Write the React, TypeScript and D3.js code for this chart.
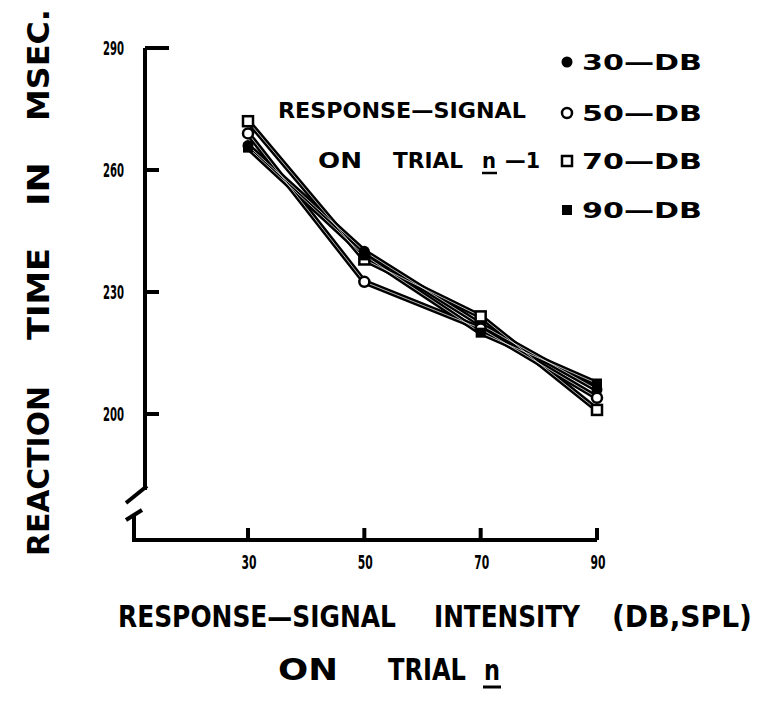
import React from 'react';
import * as d3 from 'd3';

// signal intensity on trial n (DB, SPL)
const intensities = [30, 50, 70, 90];
// one line per intensity on trial n-1
const seriesNames = ['30-DB', '50-DB', '70-DB', '90-DB'];
const seriesLabels = ['30—DB', '50—DB', '70—DB', '90—DB'];
const rt30 = [266, 240, 222, 206];
const rt50 = [269, 232.5, 221, 204];
const rt70 = [272, 238, 224, 201];
const rt90 = [265.5, 239, 220, 207.5];
const yTicks = [200, 230, 260, 290];

const series = [rt30, rt50, rt70, rt90];
const font = '"DejaVu Sans", sans-serif';

// measure text so words can be squeezed horizontally to the widths in the scan
let ctx: CanvasRenderingContext2D | null = null;
const measure = (s: string, size: number) => {
    if (!ctx) ctx = document.createElement('canvas').getContext('2d');
    if (!ctx) return s.length * size * 0.7;
    ctx.font = `bold ${size}px ${font}`;
    return ctx.measureText(s).width;
};

const Marker = ({ kind, x, y }: { kind: number; x: number; y: number }) => {
    if (kind === 0) return <circle cx={x} cy={y} r={5.5} fill="#000" />;
    if (kind === 1) return <circle cx={x} cy={y} r={5} fill="#fff" stroke="#000" strokeWidth={2.5} />;
    if (kind === 2) return <rect x={x - 5} y={y - 5} width={10} height={10} fill="#fff" stroke="#000" strokeWidth={2.5} />;
    return <rect x={x - 5} y={y - 5} width={10} height={10} fill="#000" />;
};

const Word = ({ x, y, w, size, text, anchor = 'start' }:
    { x: number; y: number; w: number; size: number; text: string; anchor?: string }) => {
    const k = w / measure(text, size);
    return (
        <g transform={`translate(${x},${y}) scale(${k},1)`}>
            <text textAnchor={anchor} fontFamily={font} fontWeight="bold" fontSize={size}>{text}</text>
        </g>
    );
};

const App = () => {
    const xScale = d3.scaleLinear().domain([30, 90]).range([248, 597]);
    const yScale = d3.scaleLinear().domain([200, 290]).range([414, 48]);
    const line = d3.line<number>()
        .x((d, i) => xScale(intensities[i]))
        .y(d => yScale(d));

    const axisY = 540;
    const axisX = 145;

    return (
        <svg width={763} height={702} style={{ position: 'absolute', left: 0, top: 0, background: '#fff' }}>
            {/* y axis title, read bottom to top */}
            <g transform="translate(49,0) rotate(-90)">
                <Word x={-556} y={0} w={170} size={30} text="REACTION" />
                <Word x={-340} y={0} w={92} size={30} text="TIME" />
                <Word x={-206} y={0} w={44} size={30} text="IN" />
                <Word x={-121} y={0} w={112} size={30} text="MSEC." />
            </g>

            {/* y axis with break */}
            <g stroke="#000" strokeWidth={4} fill="none">
                <line x1={axisX} y1={yScale(290)} x2={axisX} y2={490} />
                <line x1={axisX + 2} y1={486} x2={126} y2={503} />
                <line x1={126} y1={520} x2={142} y2={510} />
                <line x1={134} y1={514} x2={134} y2={axisY} />
                <line x1={132} y1={axisY} x2={597} y2={axisY} />
            </g>
            {yTicks.map(t => (
                <g key={t}>
                    <line x1={axisX} x2={axisX + (t === 290 ? 24 : 14)} y1={yScale(t)} y2={yScale(t)} stroke="#000" strokeWidth={4} />
                    <Word x={124} y={yScale(t) + 7} w={21} size={19} text={String(t)} anchor="end" />
                </g>
            ))}
            {intensities.map(v => (
                <g key={v}>
                    <line x1={xScale(v)} x2={xScale(v)} y1={axisY} y2={axisY - 12} stroke="#000" strokeWidth={4} />
                    <Word x={xScale(v) + 1} y={axisY + 29} w={15} size={19} text={String(v)} anchor="middle" />
                </g>
            ))}

            {/* lines */}
            {series.map((s, i) => (
                <path key={seriesNames[i]} d={line(s) || ''} fill="none" stroke="#000" strokeWidth={5.5}
                    strokeLinejoin="round" />
            ))}
            {series.map((s, i) => (
                <path key={seriesNames[i] + 'w'} d={line(s) || ''} fill="none" stroke="#fff" strokeWidth={1} opacity={0.7} />
            ))}
            {series.map((s, i) => s.map((v, j) => (
                <Marker key={seriesNames[i] + j} kind={i} x={xScale(intensities[j])} y={yScale(v)} />
            )))}

            {/* inset title */}
            <Word x={278} y={118} w={248} size={21} text="RESPONSE—SIGNAL" />
            <Word x={318} y={168} w={44} size={21} text="ON" />
            <Word x={393} y={168} w={70} size={21} text="TRIAL" />
            <Word x={482} y={168} w={14} size={21} text="n" />
            <line x1={482} x2={497} y1={173} y2={173} stroke="#000" strokeWidth={2.5} />
            <Word x={505} y={168} w={35} size={21} text="—1" />

            {/* legend */}
            {seriesLabels.map((name, i) => (
                <g key={name} transform={`translate(567,${[62, 113, 161, 210][i]})`}>
                    <Marker kind={i} x={0} y={0} />
                    <Word x={15} y={8} w={120} size={21} text={name} />
                </g>
            ))}

            {/* x axis title */}
            <Word x={118} y={627} w={278} size={31} text="RESPONSE—SIGNAL" />
            <Word x={434} y={627} w={146} size={31} text="INTENSITY" />
            <Word x={612} y={627} w={140} size={31} text="(DB,SPL)" />
            <Word x={278} y={680} w={60} size={30} text="ON" />
            <Word x={388} y={680} w={78} size={31} text="TRIAL" />
            <Word x={484} y={680} w={16} size={28} text="n" />
            <line x1={483} x2={501} y1={687} y2={687} stroke="#000" strokeWidth={3} />
        </svg>
    );
};

export default App;
